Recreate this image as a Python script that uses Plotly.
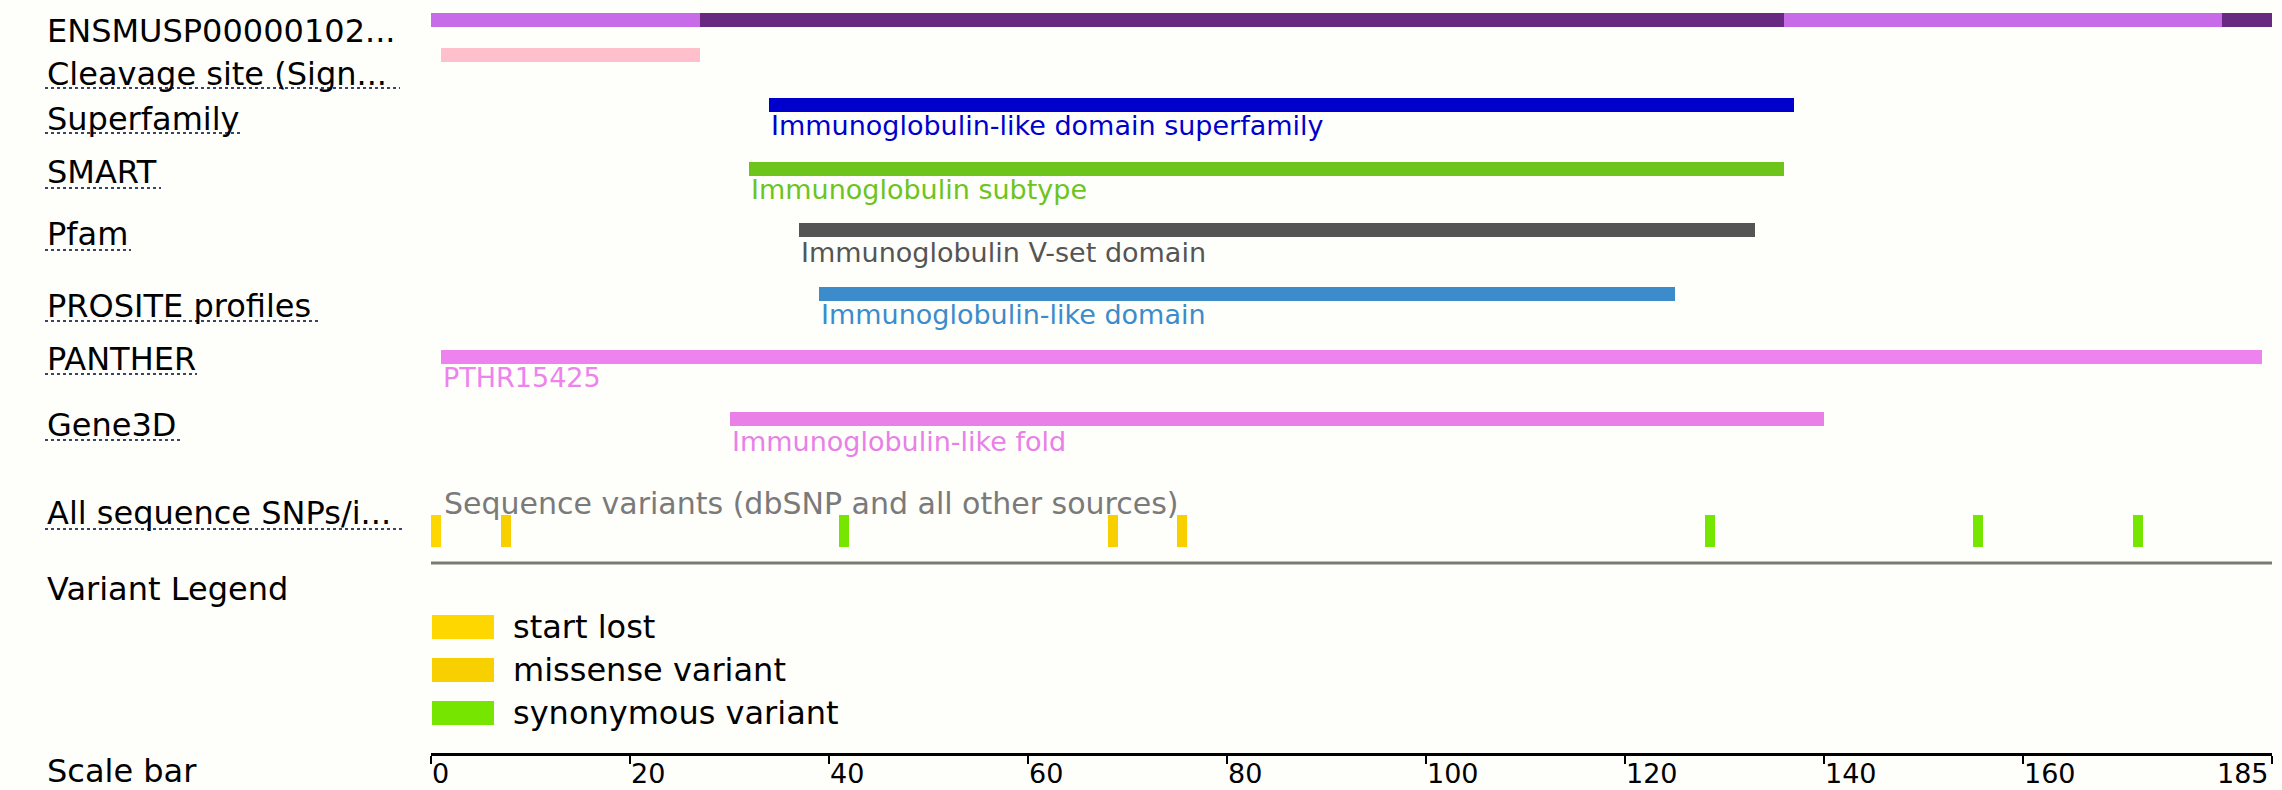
import plotly.graph_objects as go

# ---------------- data ----------------
protein_length = 185

track_labels = ["ENSMUSP00000102...", "Cleavage site (Sign...", "Superfamily", "SMART", "Pfam",
                "PROSITE profiles", "PANTHER", "Gene3D", "All sequence SNPs/i...",
                "Variant Legend", "Scale bar"]

exon_starts = [0, 27, 136, 180]
exon_ends = [27, 136, 180, 185]

domain_sources = ["Cleavage site (Sign...", "Superfamily", "SMART", "Pfam",
                  "PROSITE profiles", "PANTHER", "Gene3D"]
domain_starts = [2, 35, 33, 38, 40, 2, 31]
domain_ends = [27, 137, 136, 133, 125, 184, 140]
domain_names = ["", "Immunoglobulin-like domain superfamily", "Immunoglobulin subtype",
                "Immunoglobulin V-set domain", "Immunoglobulin-like domain", "PTHR15425",
                "Immunoglobulin-like fold"]

variant_positions = [1, 8, 42, 69, 76, 129, 156, 172]
variant_types = ["start lost", "missense variant", "synonymous variant", "missense variant",
                 "missense variant", "synonymous variant", "synonymous variant", "synonymous variant"]
legend_types = ["start lost", "missense variant", "synonymous variant"]

scale_ticks = [0, 20, 40, 60, 80, 100, 120, 140, 160, 185]

# ---------------- styles / layout ----------------
W, H = 2282, 790
X0_PX, X1_PX = 431, 2272
LABEL_X = 45
FONT = "DejaVu Sans"
BG = "#FEFEFB"

exon_colors = ["#C86BE8", "#682A80", "#C86BE8", "#682A80"]
domain_colors = {"Cleavage site (Sign...": "#FFC0CB", "Superfamily": "#0000CD", "SMART": "#6DC41B",
                 "Pfam": "#555555", "PROSITE profiles": "#3C8BCB", "PANTHER": "#EE82EE",
                 "Gene3D": "#E880E8"}
variant_colors = {"start lost": "#FFD700", "missense variant": "#F8D000",
                  "synonymous variant": "#76E600"}

bar_center_y = {"Cleavage site (Sign...": 54.5, "Superfamily": 105, "SMART": 168.5, "Pfam": 230,
                "PROSITE profiles": 293.5, "PANTHER": 356.5, "Gene3D": 418.5}
domain_label_y = {"Superfamily": 125, "SMART": 189, "Pfam": 252, "PROSITE profiles": 314,
                  "PANTHER": 377, "Gene3D": 441}
label_y = {"ENSMUSP00000102...": 31, "Cleavage site (Sign...": 74, "Superfamily": 119,
           "SMART": 172, "Pfam": 234, "PROSITE profiles": 306, "PANTHER": 359, "Gene3D": 425,
           "All sequence SNPs/i...": 513, "Variant Legend": 589, "Scale bar": 771}
underline = {"Cleavage site (Sign...": (88, 400), "Superfamily": (133, 241), "SMART": (188, 161),
             "Pfam": (250, 131), "PROSITE profiles": (321, 318), "PANTHER": (374, 197),
             "Gene3D": (440, 182), "All sequence SNPs/i...": (529, 403)}
EXON_Y, BAR_T = 20, 14
VAR_Y, VAR_T = 531, 32
VAR_LINE_Y = 563
legend_y = [627, 670, 713]
SCALE_Y = 753.5

fig = go.Figure()

# protein exon track
fig.add_trace(go.Bar(orientation="h", y=[EXON_Y] * len(exon_starts),
                     x=[e - s for s, e in zip(exon_starts, exon_ends)], base=exon_starts,
                     width=BAR_T, marker=dict(color=exon_colors, line=dict(width=0)),
                     showlegend=False, hoverinfo="skip"))

# domain tracks
for src, s, e in zip(domain_sources, domain_starts, domain_ends):
    fig.add_trace(go.Bar(orientation="h", y=[bar_center_y[src]], x=[e - s + 1], base=[s - 1],
                         width=BAR_T, marker=dict(color=domain_colors[src], line=dict(width=0)),
                         showlegend=False, hoverinfo="skip"))

# variants
fig.add_trace(go.Bar(orientation="h", y=[VAR_Y] * len(variant_positions),
                     x=[1] * len(variant_positions), base=[p - 1 for p in variant_positions],
                     width=VAR_T,
                     marker=dict(color=[variant_colors[t] for t in variant_types], line=dict(width=0)),
                     showlegend=False, hoverinfo="skip"))

# variant baseline
fig.add_trace(go.Scatter(x=[0, protein_length], y=[VAR_LINE_Y, VAR_LINE_Y], mode="lines",
                         line=dict(color="#7A7A72", width=3), showlegend=False, hoverinfo="skip"))

annotations = []
shapes = []

# left labels
for lab in track_labels:
    annotations.append(dict(x=LABEL_X / W, xref="paper", y=label_y[lab], yref="y", text=lab,
                            showarrow=False, xanchor="left", yanchor="middle",
                            font=dict(family=FONT, size=32, color="#000000")))
    if lab in underline:
        uy, ux = underline[lab]
        shapes.append(dict(type="line", xref="paper", yref="y", x0=LABEL_X / W, x1=ux / W,
                           y0=uy, y1=uy, line=dict(color="#3A4466", width=2, dash="dot")))

# domain labels
for src, s, name in zip(domain_sources, domain_starts, domain_names):
    if name:
        annotations.append(dict(x=s - 1, xref="x", y=domain_label_y[src], yref="y", text=name,
                                showarrow=False, xanchor="left", yanchor="middle",
                                font=dict(family=FONT, size=27, color=domain_colors[src])))

# sequence variants title
annotations.append(dict(x=0, xref="x", xshift=11, y=503, yref="y",
                        text="Sequence variants (dbSNP and all other sources)",
                        showarrow=False, xanchor="left", yanchor="middle",
                        font=dict(family=FONT, size=30, color="#7A7A7A")))

# variant legend
for t, ly in zip(legend_types, legend_y):
    shapes.append(dict(type="rect", xref="paper", yref="y", x0=432 / W, x1=494 / W,
                       y0=ly - 12, y1=ly + 12, fillcolor=variant_colors[t], line=dict(width=0)))
    annotations.append(dict(x=511 / W, xref="paper", y=ly, yref="y", text=t, showarrow=False,
                            xanchor="left", yanchor="middle",
                            font=dict(family=FONT, size=32, color="#000000")))

# scale bar tick labels (left aligned at tick, last one right aligned)
for i, tv in enumerate(scale_ticks):
    last = i == len(scale_ticks) - 1
    annotations.append(dict(x=tv, xref="x", y=773, yref="y", text=str(tv), showarrow=False,
                            xanchor="right" if last else "left", xshift=-1, yanchor="middle",
                            font=dict(family=FONT, size=27, color="#000000")))

fig.update_layout(
    width=W, height=H, margin=dict(l=0, r=0, t=0, b=0),
    paper_bgcolor=BG, plot_bgcolor=BG, barmode="overlay", bargap=0,
    showlegend=False, annotations=annotations, shapes=shapes,
    xaxis=dict(domain=[X0_PX / W, X1_PX / W], range=[0, protein_length], anchor="free",
               position=1 - SCALE_Y / H, showgrid=False, zeroline=False, showline=True,
               linecolor="#000000", linewidth=3, ticks="outside", ticklen=8, tickwidth=2,
               tickcolor="#000000", tickvals=scale_ticks, showticklabels=False, fixedrange=True),
    yaxis=dict(domain=[0, 1], range=[H, 0], visible=False, fixedrange=True),
)

fig.write_html("out.html", config={"displayModeBar": False},
               post_script="document.body.style.margin='0';document.body.style.overflow='hidden';")
